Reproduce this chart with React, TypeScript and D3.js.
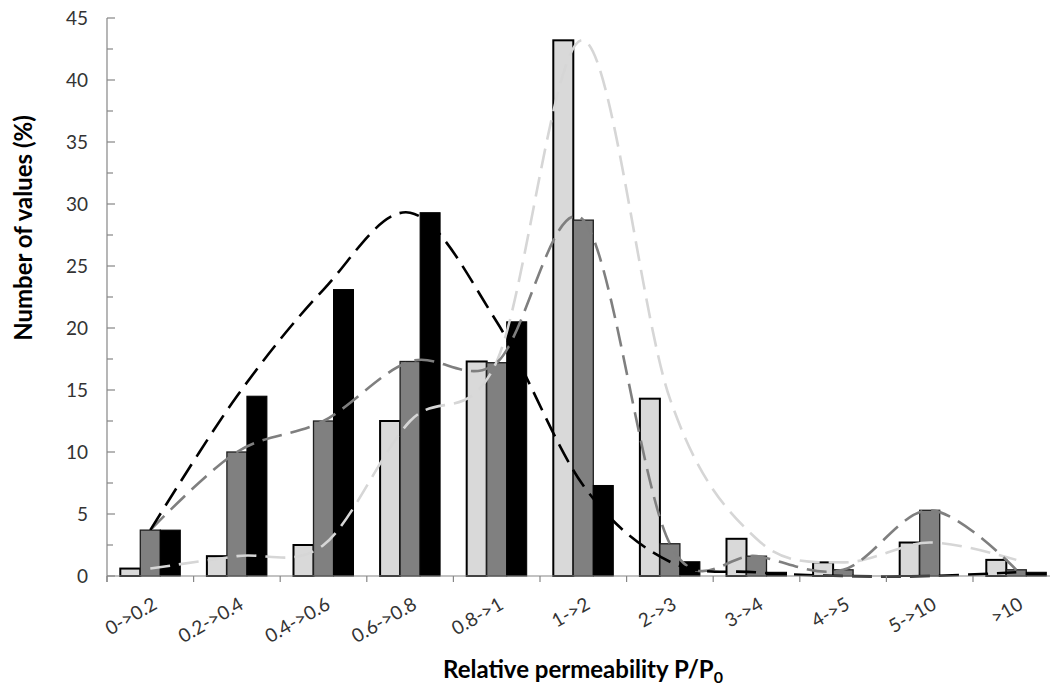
import React from "react";
import * as d3 from "d3";

// Permeability classes on the x axis
const categories = [
  "0->0.2",
  "0.2->0.4",
  "0.4->0.6",
  "0.6->0.8",
  "0.8->1",
  "1->2",
  "2->3",
  "3->4",
  "4->5",
  "5->10",
  ">10",
];

// Percent of values per class, one array per series
const lightValues = [0.6, 1.6, 2.5, 12.5, 17.3, 43.2, 14.3, 3.0, 1.1, 2.7, 1.3];
const grayValues = [3.7, 10.0, 12.5, 17.3, 17.2, 28.7, 2.6, 1.6, 0.5, 5.3, 0.5];
const blackValues = [3.7, 14.5, 23.1, 29.3, 20.5, 7.3, 1.15, 0.3, 0, 0, 0.3];

const yMajorTicks = [0, 5, 10, 15, 20, 25, 30, 35, 40, 45];
const yMinorTicks = [2.5, 7.5, 12.5, 17.5, 22.5, 27.5, 32.5, 37.5, 42.5];

const seriesKeys = ["light", "gray", "black"];

const W = 1050;
const H = 685;
const plotLeft = 107;
const plotRight = 1059.6;
const plotTop = 18;
const plotBottom = 576;

const FONT = "Lato, 'Open Sans', sans-serif";

const barStyle: Record<string, { fill: string; stroke: string; sw: number }> = {
  light: { fill: "#d9d9d9", stroke: "#000000", sw: 2 },
  gray: { fill: "#808080", stroke: "#1f1f1f", sw: 1.3 },
  black: { fill: "#000000", stroke: "#000000", sw: 1 },
};

const lineStyle: Record<string, string> = {
  light: "#d6d6d6",
  gray: "#7f7f7f",
  black: "#000000",
};

export default function App() {
  const x = d3
    .scaleBand<string>()
    .domain(categories)
    .range([plotLeft, plotRight])
    .paddingInner(0.307)
    .paddingOuter(0.1535);

  const xs = d3
    .scaleBand<string>()
    .domain(seriesKeys)
    .range([0, x.bandwidth()]);

  const y = d3.scaleLinear().domain([0, 45]).range([plotBottom, plotTop]);

  const step = x.step();
  const boundaries = d3.range(categories.length + 1).map(
    (i) => plotLeft + i * step
  );

  const seriesData: Record<string, number[]> = {
    light: lightValues,
    gray: grayValues,
    black: blackValues,
  };

  const line = d3
    .line<[string, number]>()
    .x((d) => (x(d[0]) as number) + x.bandwidth() / 2)
    .y((d) => y(d[1]))
    .curve(d3.curveCardinal.tension(0));

  return (
    <svg
      width={W}
      height={H}
      style={{ position: "absolute", left: 0, top: 0, display: "block", background: "#fff" }}
      fontFamily={FONT}
    >
      {/* bars */}
      {seriesKeys.map((k) => (
        <g key={k}>
          {categories.map((c, i) => {
            const v = seriesData[k][i];
            if (v <= 0) return null;
            const bx = (x(c) as number) + (xs(k) as number);
            const st = barStyle[k];
            return (
              <rect
                key={c}
                x={bx}
                y={y(v)}
                width={xs.bandwidth()}
                height={plotBottom - y(v)}
                fill={st.fill}
                stroke={st.stroke}
                strokeWidth={st.sw}
              />
            );
          })}
        </g>
      ))}

      {/* smoothed dashed trend lines */}
      {["light", "gray", "black"].map((k) => (
        <path
          key={k}
          d={line(categories.map((c, i) => [c, seriesData[k][i]]) as [string, number][]) || ""}
          fill="none"
          stroke={lineStyle[k]}
          strokeWidth={2.6}
          strokeDasharray="20 9"
        />
      ))}

      {/* y axis */}
      <line x1={plotLeft} x2={plotLeft} y1={y(45)} y2={plotBottom + 6} stroke="#868686" strokeWidth={1.2} />
      {yMajorTicks.map((t) => (
        <line key={"M" + t} x1={plotLeft} x2={plotLeft + 8} y1={y(t)} y2={y(t)} stroke="#868686" strokeWidth={1.2} />
      ))}
      {yMinorTicks.map((t) => (
        <line key={"m" + t} x1={plotLeft} x2={plotLeft + 6} y1={y(t)} y2={y(t)} stroke="#868686" strokeWidth={1.2} />
      ))}
      {yMajorTicks.map((t) => (
        <text key={"l" + t} x={88} y={y(t)} dy="0.36em" textAnchor="end" fontSize={19} fill="#333333">
          {t}
        </text>
      ))}

      {/* x axis */}
      <line x1={plotLeft} x2={plotRight} y1={plotBottom} y2={plotBottom} stroke="#868686" strokeWidth={1.2} />
      {boundaries.map((bx, i) => (
        <line key={"xt" + i} x1={bx} x2={bx} y1={plotBottom} y2={plotBottom + 6} stroke="#868686" strokeWidth={1.2} />
      ))}
      {categories.map((c) => {
        const cx = (x(c) as number) + x.bandwidth() / 2;
        return (
          <text
            key={"xl" + c}
            transform={`translate(${cx + 8},${608}) rotate(-30)`}
            textAnchor="end"
            fontSize={19}
            fill="#333333"
          >
            {c}
          </text>
        );
      })}

      {/* axis titles */}
      <text
        transform={`translate(24,228) rotate(-90)`}
        textAnchor="middle"
        dy="0.35em"
        fontSize={24}
        fontWeight="bold"
        fill="#000"
      >
        Number of values (%)
      </text>
      <text x={583} y={678} textAnchor="middle" fontSize={24} fontWeight="bold" fill="#000">
        Relative permeability P/P
        <tspan fontSize={16} dy={5}>
          0
        </tspan>
      </text>
    </svg>
  );
}
